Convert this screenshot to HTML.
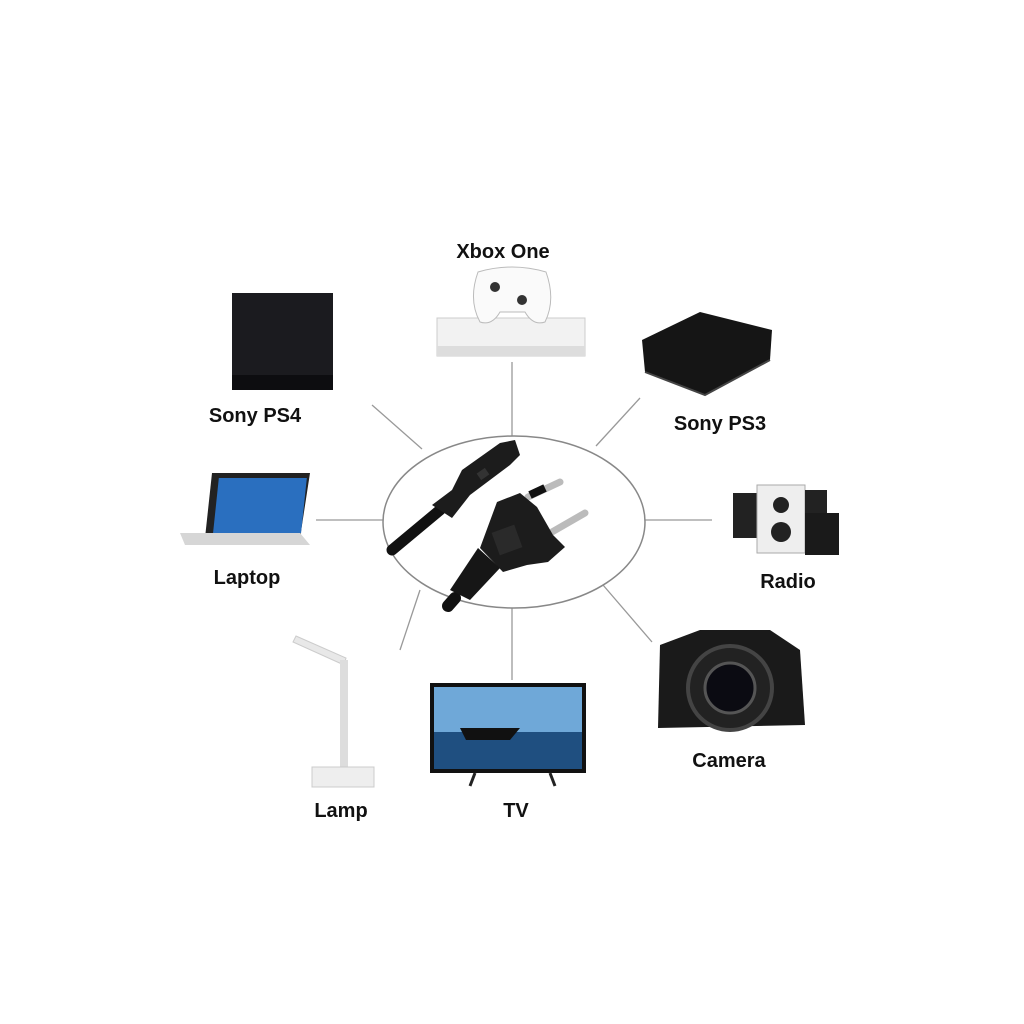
<!DOCTYPE html>
<html><head><meta charset="utf-8"><style>
html,body{margin:0;padding:0;background:#fff;width:1024px;height:1024px;overflow:hidden}
svg{display:block}
text{font-family:"Liberation Sans",Arial,sans-serif;font-weight:bold;font-size:20px;fill:#111;text-anchor:middle}
</style></head><body>
<svg width="1024" height="1024" viewBox="0 0 1024 1024">
<rect width="1024" height="1024" fill="#fff"/>
<g stroke="#999" stroke-width="1.3">
<line x1="512" y1="362" x2="512" y2="437"/>
<line x1="372" y1="405" x2="422" y2="449"/>
<line x1="640" y1="398" x2="596" y2="446"/>
<line x1="316" y1="520" x2="383" y2="520"/>
<line x1="645" y1="520" x2="712" y2="520"/>
<line x1="400" y1="650" x2="420" y2="590"/>
<line x1="512" y1="608" x2="512" y2="680"/>
<line x1="603" y1="585" x2="652" y2="642"/>
</g>
<ellipse cx="514" cy="522" rx="131" ry="86" fill="#fff" stroke="#888" stroke-width="1.5"/>
<!-- C7 connector -->
<path d="M392 550 L440 510" stroke="#111" stroke-width="11" stroke-linecap="round"/>
<path d="M432 505 L452 490 L462 470 L500 443 L515 440 L520 455 L510 465 L470 495 L452 518 Z" fill="#1c1c1c"/>
<rect x="478" y="470" width="10" height="8" fill="#333" transform="rotate(-35 483 474)"/>
<!-- euro plug -->
<path d="M528 497 L560 482" stroke="#bbb" stroke-width="7" stroke-linecap="round"/>
<path d="M552 532 L585 513" stroke="#bbb" stroke-width="7" stroke-linecap="round"/>
<path d="M530 495 L545 488" stroke="#111" stroke-width="8"/>
<path d="M455 598 L448 606" stroke="#111" stroke-width="12" stroke-linecap="round"/>
<path d="M497 502 L520 493 L537 507 L553 535 L565 547 L548 562 L527 565 L503 572 L480 548 Z" fill="#1c1c1c"/>
<path d="M478 548 L500 568 L470 600 L450 590 Z" fill="#161616"/>
<rect x="495" y="528" width="24" height="24" fill="#2a2a2a" transform="rotate(-20 507 540)"/>
<!-- PS4 -->
<rect x="232" y="293" width="101" height="97" fill="#1b1b1f"/>
<rect x="232" y="375" width="101" height="15" fill="#0d0d10"/>
<!-- Xbox -->
<rect x="437" y="318" width="148" height="38" fill="#f2f2f2" stroke="#ccc"/>
<rect x="437" y="346" width="148" height="10" fill="#ddd"/>
<path d="M478 272 Q512 262 546 272 Q556 300 545 322 Q533 326 525 312 L500 312 Q492 326 480 322 Q468 300 478 272z" fill="#fafafa" stroke="#bbb"/>
<circle cx="495" cy="287" r="5" fill="#333"/><circle cx="522" cy="300" r="5" fill="#333"/>
<!-- PS3 -->
<path d="M642 340 L700 312 L772 330 L770 360 L705 395 L645 372 z" fill="#151515"/>
<path d="M645 372 L705 395 L770 360" stroke="#444" fill="none" stroke-width="2"/>
<!-- Laptop -->
<path d="M212 473 L310 473 L300 538 L205 538z" fill="#222"/>
<rect x="216" y="478" width="88" height="55" fill="#2a6fbf" transform="skewX(-6)" transform-origin="260 505"/>
<path d="M180 533 L300 533 L310 545 L185 545z" fill="#d6d6d6"/>
<!-- Radio -->
<rect x="733" y="493" width="25" height="45" fill="#222"/>
<rect x="757" y="485" width="48" height="68" fill="#eee" stroke="#aaa"/>
<circle cx="781" cy="505" r="8" fill="#222"/><circle cx="781" cy="532" r="10" fill="#222"/>
<rect x="805" y="490" width="22" height="45" fill="#222"/>
<rect x="805" y="513" width="34" height="42" fill="#1a1a1a"/>
<!-- Camera -->
<path d="M660 645 L700 630 L770 630 L800 650 L805 725 L658 728z" fill="#1a1a1a"/>
<circle cx="730" cy="688" r="42" fill="#222" stroke="#444" stroke-width="4"/>
<circle cx="730" cy="688" r="25" fill="#0b0b12" stroke="#555" stroke-width="3"/>
<!-- Lamp -->
<path d="M296 636 L346 658 L344 665 L293 642z" fill="#e8e8e8" stroke="#ccc"/>
<rect x="340" y="660" width="8" height="110" fill="#ddd"/>
<rect x="312" y="767" width="62" height="20" fill="#eee" stroke="#ccc"/>
<!-- TV -->
<rect x="430" y="683" width="156" height="90" fill="#111"/>
<rect x="434" y="687" width="148" height="82" fill="#6fa8d8"/>
<rect x="434" y="732" width="148" height="37" fill="#1f4f80"/>
<path d="M460 728 L520 728 L510 740 L466 740z" fill="#111"/>
<path d="M475 773 L470 786 M550 773 L555 786" stroke="#222" stroke-width="3"/>
<text x="503" y="258">Xbox One</text>
<text x="255" y="422">Sony PS4</text>
<text x="720" y="430">Sony PS3</text>
<text x="247" y="584">Laptop</text>
<text x="788" y="588">Radio</text>
<text x="729" y="767">Camera</text>
<text x="341" y="817">Lamp</text>
<text x="516" y="817">TV</text>
</svg>
</body></html>
